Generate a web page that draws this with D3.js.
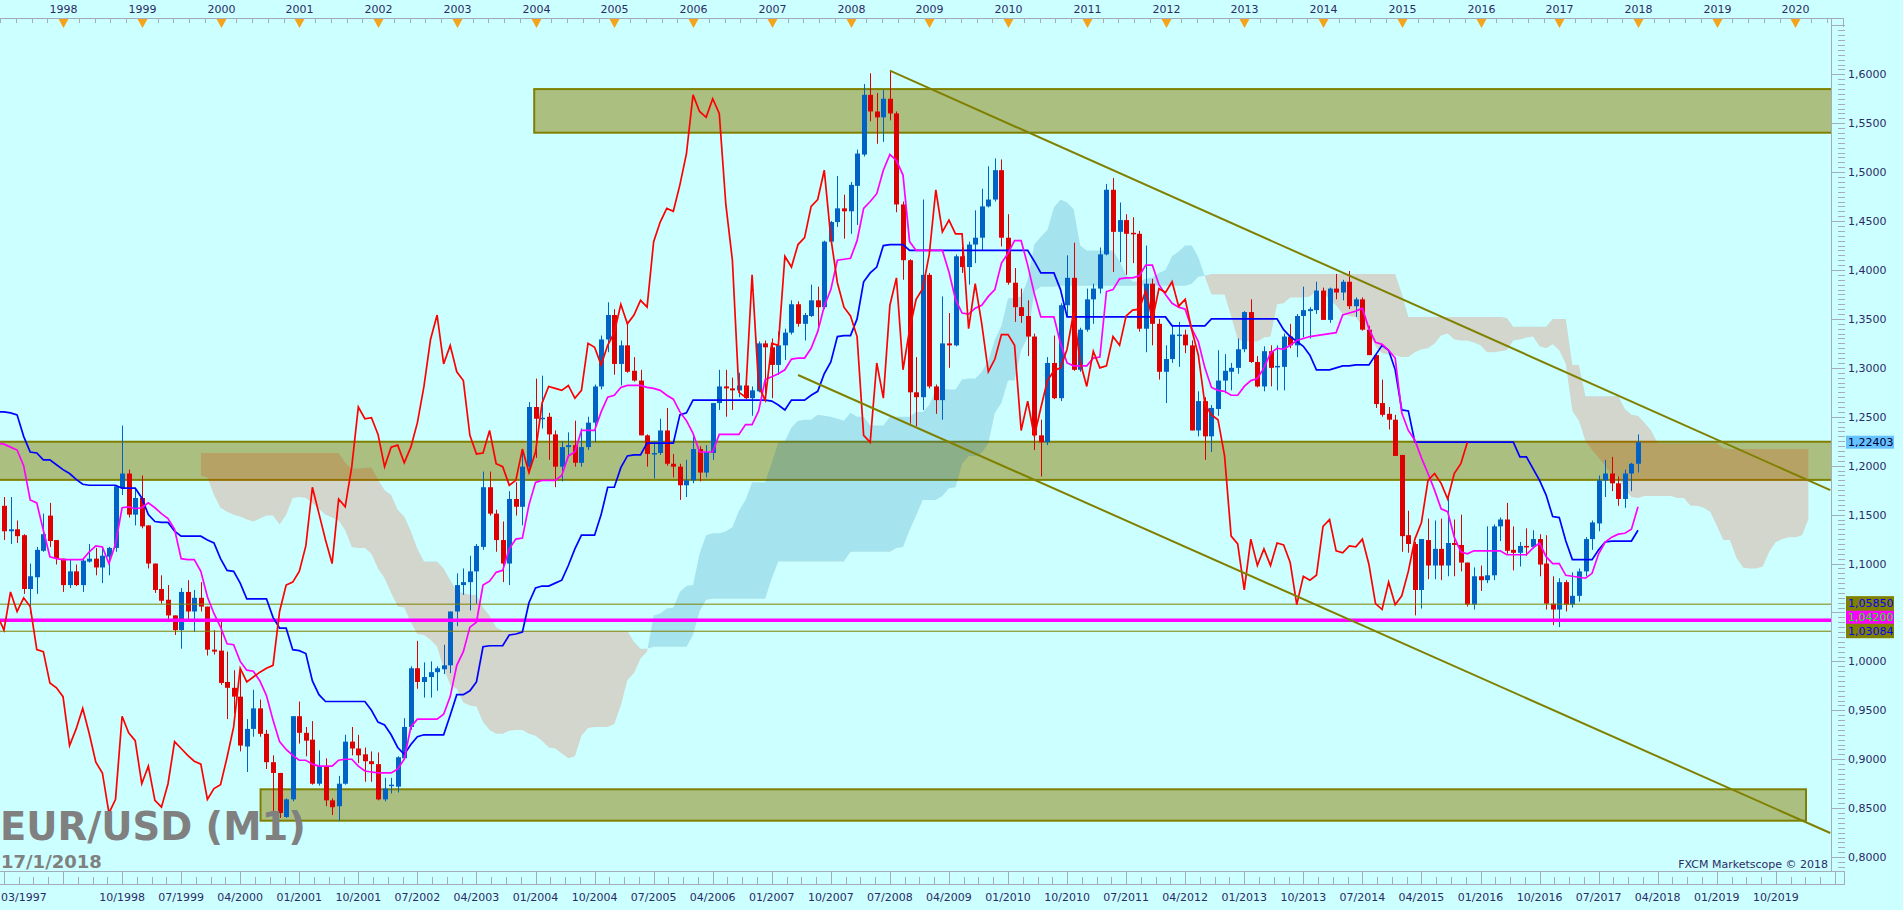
<!DOCTYPE html>
<html><head><meta charset="utf-8">
<script src="https://cdn.jsdelivr.net/npm/d3@7"></script>
<style>html,body{margin:0;padding:0;background:#ccffff;overflow:hidden}svg{display:block}</style>
</head><body>
<svg id="chart" width="1903" height="910"></svg>
<script>
// ---------------- DATA (monthly EUR/USD, first candle = 03/1997) ----------------
const firstMonth = {year: 1997, month: 3};
const opens = [
1.149,1.159,1.133,1.135,1.129,1.074,1.086,1.113,1.149,1.124,
1.105,1.078,1.092,1.078,1.102,1.105,1.096,1.107,1.116,1.177,
1.192,1.150,1.167,1.139,1.100,1.074,1.063,1.047,1.032,1.071,
1.051,1.065,1.056,1.012,1.011,0.979,0.973,0.964,0.913,0.931,
0.952,0.926,0.897,0.886,0.841,0.859,0.944,0.927,0.920,0.875,
0.893,0.858,0.852,0.875,0.918,0.911,0.905,0.898,0.895,0.859,
0.873,0.872,0.901,0.933,0.993,0.979,0.984,0.989,0.992,0.996,
1.051,1.078,1.081,1.092,1.117,1.178,1.151,1.124,1.100,1.166,
1.158,1.199,1.260,1.248,1.250,1.232,1.199,1.219,1.221,1.203,
1.219,1.244,1.281,1.329,1.354,1.304,1.323,1.297,1.287,1.231,
1.212,1.213,1.236,1.202,1.199,1.180,1.185,1.217,1.193,1.213,
1.264,1.281,1.279,1.277,1.282,1.269,1.276,1.325,1.321,1.303,
1.323,1.336,1.365,1.345,1.353,1.369,1.362,1.429,1.449,1.463,
1.460,1.486,1.518,1.579,1.562,1.556,1.575,1.560,1.467,1.410,
1.275,1.270,1.395,1.281,1.267,1.325,1.323,1.414,1.403,1.426,
1.433,1.465,1.472,1.502,1.433,1.387,1.362,1.353,1.332,1.231,
1.224,1.305,1.269,1.364,1.392,1.298,1.339,1.370,1.381,1.416,
1.482,1.439,1.451,1.438,1.437,1.340,1.386,1.345,1.296,1.309,
1.333,1.334,1.323,1.236,1.266,1.230,1.258,1.287,1.296,1.300,
1.319,1.357,1.306,1.281,1.317,1.301,1.301,1.332,1.323,1.353,
1.358,1.359,1.379,1.349,1.381,1.377,1.388,1.363,1.370,1.339,
1.313,1.264,1.253,1.247,1.211,1.129,1.120,1.073,1.124,1.098,
1.115,1.098,1.121,1.119,1.101,1.058,1.087,1.083,1.088,1.138,
1.145,1.114,1.111,1.118,1.117,1.125,1.100,1.059,1.053,1.081,
1.058,1.067,1.092,1.125,1.141,1.185,1.192,1.182,1.166,1.192,
1.202];
const highs = [
1.167,1.168,1.168,1.144,1.130,1.100,1.117,1.151,1.162,1.124,
1.105,1.104,1.099,1.105,1.120,1.116,1.117,1.117,1.179,1.241,
1.196,1.177,1.190,1.139,1.100,1.088,1.078,1.047,1.075,1.083,
1.073,1.081,1.056,1.032,1.042,1.010,0.991,0.991,0.941,0.971,
0.961,0.930,0.904,0.886,0.860,0.944,0.959,0.933,0.939,0.909,
0.901,0.860,0.883,0.925,0.933,0.925,0.912,0.908,0.907,0.881,
0.881,0.903,0.942,0.995,1.021,0.999,1.000,0.995,1.017,1.051,
1.090,1.095,1.108,1.120,1.194,1.194,1.155,1.143,1.174,1.183,
1.217,1.265,1.289,1.292,1.254,1.236,1.225,1.234,1.246,1.238,
1.250,1.283,1.333,1.367,1.360,1.328,1.347,1.311,1.298,1.232,
1.225,1.248,1.259,1.212,1.202,1.206,1.230,1.220,1.221,1.264,
1.298,1.298,1.290,1.295,1.285,1.281,1.327,1.328,1.330,1.337,
1.340,1.369,1.368,1.356,1.385,1.383,1.430,1.450,1.496,1.477,
1.490,1.523,1.590,1.601,1.581,1.584,1.603,1.562,1.470,1.411,
1.311,1.472,1.397,1.283,1.373,1.356,1.416,1.424,1.429,1.461,
1.483,1.506,1.514,1.513,1.457,1.402,1.381,1.369,1.335,1.247,
1.311,1.333,1.366,1.415,1.428,1.341,1.381,1.386,1.423,1.488,
1.494,1.469,1.457,1.454,1.440,1.425,1.391,1.350,1.323,1.344,
1.347,1.339,1.328,1.276,1.270,1.262,1.318,1.314,1.305,1.330,
1.358,1.370,1.312,1.322,1.323,1.323,1.335,1.345,1.355,1.383,
1.362,1.388,1.382,1.382,1.396,1.390,1.399,1.372,1.372,1.343,
1.315,1.288,1.260,1.252,1.211,1.154,1.122,1.125,1.146,1.144,
1.146,1.167,1.145,1.150,1.101,1.096,1.098,1.138,1.140,1.147,
1.162,1.138,1.122,1.136,1.134,1.130,1.129,1.087,1.085,1.083,
1.091,1.095,1.127,1.144,1.190,1.206,1.209,1.189,1.196,1.203,
1.232];
const lows = [
1.140,1.124,1.120,1.121,1.069,1.049,1.069,1.112,1.117,1.099,
1.071,1.075,1.077,1.071,1.101,1.088,1.080,1.088,1.112,1.170,
1.147,1.139,1.136,1.095,1.070,1.059,1.042,1.027,1.013,1.041,
1.030,1.051,1.006,1.007,0.976,0.941,0.947,0.908,0.887,0.923,
0.923,0.890,0.845,0.840,0.840,0.857,0.916,0.903,0.874,0.873,
0.852,0.843,0.837,0.874,0.904,0.896,0.877,0.877,0.858,0.857,
0.865,0.866,0.900,0.930,0.972,0.963,0.963,0.970,0.987,0.988,
1.036,1.068,1.052,1.059,1.114,1.149,1.112,1.081,1.078,1.149,
1.139,1.193,1.208,1.238,1.206,1.178,1.184,1.208,1.199,1.199,
1.216,1.224,1.278,1.316,1.293,1.282,1.295,1.286,1.231,1.199,
1.187,1.211,1.200,1.188,1.165,1.168,1.182,1.184,1.188,1.206,
1.257,1.250,1.257,1.270,1.268,1.251,1.275,1.269,1.269,1.293,
1.308,1.334,1.342,1.328,1.352,1.338,1.360,1.428,1.444,1.432,
1.437,1.446,1.516,1.552,1.529,1.531,1.553,1.459,1.390,1.243,
1.240,1.257,1.279,1.253,1.247,1.300,1.322,1.397,1.385,1.407,
1.420,1.464,1.470,1.424,1.385,1.347,1.346,1.312,1.216,1.189,
1.221,1.268,1.266,1.352,1.297,1.296,1.337,1.345,1.376,1.415,
1.398,1.408,1.395,1.407,1.337,1.316,1.323,1.288,1.264,1.305,
1.301,1.315,1.236,1.230,1.206,1.214,1.251,1.274,1.277,1.294,
1.316,1.305,1.280,1.276,1.281,1.277,1.277,1.320,1.311,1.331,
1.330,1.355,1.349,1.346,1.370,1.369,1.360,1.352,1.338,1.313,
1.259,1.250,1.237,1.210,1.112,1.111,1.047,1.054,1.084,1.084,
1.083,1.087,1.087,1.092,1.056,1.053,1.072,1.080,1.083,1.123,
1.110,1.093,1.097,1.108,1.115,1.087,1.053,1.037,1.035,1.051,
1.055,1.061,1.087,1.114,1.133,1.168,1.174,1.159,1.157,1.174,
1.193];
const closes = [
1.159,1.133,1.135,1.128,1.074,1.087,1.114,1.130,1.123,1.105,
1.078,1.092,1.078,1.103,1.105,1.096,1.108,1.116,1.179,1.192,
1.150,1.167,1.138,1.100,1.073,1.062,1.047,1.032,1.071,1.051,
1.065,1.056,1.012,1.010,0.978,0.973,0.964,0.914,0.931,0.952,
0.926,0.897,0.886,0.845,0.859,0.944,0.927,0.919,0.875,0.893,
0.858,0.851,0.875,0.918,0.911,0.904,0.898,0.895,0.859,0.870,
0.874,0.902,0.933,0.993,0.979,0.984,0.989,0.993,0.996,1.051,
1.078,1.081,1.092,1.118,1.178,1.151,1.124,1.100,1.166,1.158,
1.199,1.260,1.248,1.249,1.232,1.199,1.219,1.221,1.203,1.219,
1.244,1.281,1.329,1.354,1.304,1.323,1.296,1.287,1.231,1.212,
1.213,1.236,1.202,1.199,1.180,1.185,1.217,1.193,1.214,1.264,
1.281,1.279,1.277,1.282,1.269,1.277,1.325,1.321,1.303,1.323,
1.336,1.365,1.345,1.354,1.369,1.362,1.429,1.449,1.463,1.460,
1.487,1.519,1.579,1.562,1.556,1.575,1.560,1.467,1.410,1.275,
1.270,1.395,1.281,1.267,1.325,1.323,1.414,1.403,1.426,1.433,
1.465,1.472,1.502,1.433,1.387,1.362,1.353,1.332,1.231,1.224,
1.305,1.269,1.364,1.392,1.298,1.339,1.370,1.381,1.416,1.482,
1.439,1.451,1.437,1.437,1.340,1.386,1.345,1.296,1.309,1.334,
1.334,1.323,1.236,1.266,1.230,1.259,1.287,1.297,1.300,1.319,
1.357,1.306,1.281,1.317,1.300,1.302,1.332,1.323,1.353,1.359,
1.360,1.379,1.349,1.381,1.377,1.388,1.363,1.370,1.339,1.313,
1.263,1.252,1.247,1.210,1.128,1.120,1.073,1.125,1.098,1.115,
1.098,1.121,1.119,1.101,1.058,1.087,1.083,1.088,1.138,1.145,
1.113,1.111,1.118,1.117,1.125,1.099,1.059,1.053,1.081,1.058,
1.067,1.092,1.125,1.142,1.185,1.192,1.182,1.166,1.192,1.202,
1.224];
// Ichimoku lines (same month index as candles)
const tenkan = [
1.223,1.222,1.219,1.216,1.200,1.165,1.162,1.134,1.107,1.105,
1.104,1.104,1.104,1.104,1.112,1.118,1.117,1.100,1.120,1.157,
1.158,1.156,1.157,1.162,1.157,1.151,1.146,1.135,1.105,1.104,
1.104,1.092,1.066,1.049,1.035,1.018,1.017,1.000,0.991,0.990,
0.980,0.965,0.940,0.918,0.910,0.904,0.899,0.899,0.895,0.893,
0.893,0.893,0.899,0.900,0.900,0.893,0.888,0.887,0.886,0.886,
0.886,0.890,0.900,0.933,0.941,0.941,0.941,0.941,0.946,0.964,
0.996,1.010,1.035,1.040,1.078,1.082,1.091,1.093,1.115,1.125,
1.126,1.160,1.183,1.185,1.185,1.185,1.190,1.210,1.214,1.236,
1.236,1.236,1.255,1.270,1.272,1.280,1.282,1.282,1.282,1.280,
1.279,1.277,1.272,1.268,1.255,1.246,1.233,1.214,1.214,1.214,
1.232,1.232,1.232,1.232,1.242,1.242,1.256,1.288,1.291,1.294,
1.298,1.309,1.310,1.310,1.320,1.337,1.363,1.380,1.410,1.411,
1.412,1.430,1.463,1.470,1.478,1.502,1.518,1.512,1.497,1.429,
1.420,1.420,1.420,1.420,1.420,1.398,1.370,1.356,1.355,1.361,
1.364,1.373,1.380,1.407,1.417,1.430,1.430,1.405,1.376,1.352,
1.352,1.352,1.325,1.305,1.302,1.302,1.302,1.310,1.311,1.378,
1.380,1.391,1.392,1.392,1.394,1.405,1.405,1.385,1.375,1.366,
1.362,1.360,1.340,1.327,1.300,1.280,1.277,1.276,1.272,1.272,
1.281,1.287,1.289,1.300,1.315,1.320,1.319,1.323,1.328,1.330,
1.332,1.333,1.334,1.335,1.336,1.354,1.356,1.358,1.361,1.340,
1.326,1.324,1.318,1.310,1.254,1.236,1.226,1.208,1.192,1.175,
1.156,1.153,1.127,1.112,1.110,1.113,1.113,1.113,1.113,1.113,
1.109,1.109,1.109,1.109,1.116,1.121,1.107,1.100,1.100,1.088,
1.087,1.086,1.085,1.090,1.110,1.122,1.127,1.130,1.131,1.135,
1.158];
const kijun = [
1.255,1.255,1.254,1.252,1.230,1.214,1.213,1.206,1.206,1.201,
1.196,1.192,1.186,1.181,1.180,1.180,1.180,1.180,1.180,1.177,
1.177,1.177,1.167,1.150,1.143,1.142,1.142,1.133,1.128,1.128,
1.128,1.128,1.124,1.121,1.105,1.093,1.092,1.080,1.064,1.064,
1.064,1.064,1.045,1.034,1.034,1.012,1.011,1.008,0.980,0.966,
0.959,0.959,0.959,0.959,0.959,0.959,0.959,0.950,0.938,0.935,
0.925,0.912,0.905,0.915,0.923,0.925,0.925,0.925,0.925,0.945,
0.966,0.966,0.970,0.979,1.015,1.016,1.016,1.016,1.027,1.028,
1.030,1.060,1.075,1.077,1.077,1.080,1.083,1.098,1.115,1.129,
1.129,1.129,1.150,1.178,1.178,1.198,1.210,1.211,1.211,1.223,
1.223,1.223,1.223,1.223,1.252,1.254,1.267,1.267,1.267,1.267,
1.267,1.267,1.267,1.267,1.267,1.267,1.267,1.267,1.266,1.262,
1.257,1.267,1.267,1.267,1.272,1.276,1.294,1.306,1.332,1.333,
1.333,1.350,1.388,1.397,1.403,1.425,1.426,1.426,1.426,1.420,
1.420,1.420,1.420,1.420,1.420,1.420,1.420,1.420,1.420,1.420,
1.420,1.420,1.420,1.420,1.420,1.420,1.420,1.420,1.409,1.397,
1.397,1.397,1.380,1.352,1.352,1.352,1.352,1.352,1.352,1.352,
1.352,1.352,1.352,1.352,1.352,1.352,1.352,1.352,1.352,1.343,
1.343,1.343,1.343,1.343,1.343,1.350,1.350,1.350,1.350,1.350,
1.350,1.350,1.350,1.350,1.350,1.350,1.339,1.332,1.327,1.322,
1.313,1.298,1.298,1.298,1.300,1.302,1.302,1.303,1.303,1.303,
1.313,1.323,1.318,1.298,1.257,1.256,1.224,1.224,1.224,1.224,
1.224,1.224,1.224,1.224,1.224,1.224,1.224,1.224,1.224,1.224,
1.224,1.224,1.209,1.209,1.197,1.185,1.170,1.148,1.147,1.123,
1.104,1.104,1.104,1.104,1.114,1.122,1.123,1.123,1.123,1.123,
1.134];
const chikouShift = 26;
const cloudStart = 31; // month index of first cloud value (cloud runs 26 months ahead)
const spanA = [
1.190,1.188,1.170,1.157,1.153,1.150,1.148,1.145,1.143,1.146,
1.149,1.149,1.140,1.150,1.167,1.168,1.167,1.162,1.156,1.150,
1.147,1.144,1.134,1.117,1.116,1.116,1.110,1.095,1.085,1.070,
1.056,1.055,1.040,1.028,1.027,1.022,1.015,0.993,0.976,0.972,
0.958,0.955,0.954,0.938,0.930,0.926,0.926,0.929,0.930,0.930,
0.926,0.924,0.919,0.912,0.911,0.906,0.901,0.903,0.924,0.932,
0.933,0.933,0.933,0.936,0.955,0.981,0.988,1.003,1.010,1.047,
1.049,1.054,1.055,1.071,1.077,1.078,1.110,1.129,1.131,1.131,
1.133,1.137,1.154,1.165,1.183,1.183,1.183,1.203,1.224,1.225,
1.239,1.246,1.247,1.247,1.252,1.251,1.250,1.248,1.246,1.254,
1.250,1.250,1.241,1.241,1.241,1.250,1.250,1.250,1.250,1.255,
1.255,1.262,1.278,1.279,1.278,1.278,1.288,1.289,1.289,1.296,
1.307,1.329,1.343,1.371,1.372,1.373,1.390,1.426,1.434,1.441,
1.464,1.472,1.469,1.462,1.425,1.420,1.420,1.420,1.420,1.420,
1.409,1.395,1.388,1.388,1.391,1.392,1.397,1.400,1.414,1.419,
1.425,1.425,1.413,1.393,1.375,1.375,1.375,1.353,1.329,1.327,
1.327,1.327,1.331,1.332,1.365,1.366,1.372,1.372,1.372,1.373,
1.379,1.379,1.369,1.364,1.355,1.353,1.352,1.342,1.335,1.322,
1.315,1.314,1.313,1.311,1.311,1.316,1.319,1.320,1.325,1.333,
1.335,1.329,1.328,1.328,1.326,1.323,1.316,1.316,1.317,1.318,
1.328,1.329,1.331,1.332,1.322,1.320,1.324,1.318,1.304,1.256,
1.246,1.225,1.216,1.208,1.200,1.190,1.189,1.176,1.168,1.167,
1.169,1.169,1.169,1.169,1.169,1.167,1.167,1.159,1.159,1.157,
1.153,1.139,1.124,1.124,1.106,1.096,1.095,1.095,1.097,1.112,
1.122,1.125,1.127,1.127,1.129,1.146];
const spanB = [
1.213,1.213,1.213,1.213,1.213,1.213,1.213,1.213,1.213,1.213,
1.213,1.213,1.213,1.213,1.213,1.213,1.213,1.213,1.213,1.213,
1.213,1.213,1.203,1.197,1.197,1.198,1.198,1.186,1.175,1.170,
1.155,1.148,1.133,1.115,1.102,1.102,1.102,1.095,1.083,1.072,
1.070,1.068,1.068,1.055,1.047,1.035,1.031,1.031,1.031,1.031,
1.031,1.031,1.031,1.031,1.031,1.031,1.031,1.031,1.031,1.031,
1.031,1.031,1.031,1.031,1.031,1.031,1.020,1.013,1.013,1.015,
1.015,1.015,1.015,1.015,1.015,1.027,1.051,1.063,1.064,1.064,
1.064,1.064,1.064,1.064,1.064,1.064,1.064,1.085,1.102,1.102,
1.102,1.102,1.102,1.102,1.102,1.102,1.102,1.102,1.102,1.112,
1.112,1.112,1.112,1.112,1.112,1.112,1.116,1.117,1.134,1.149,
1.165,1.165,1.165,1.169,1.177,1.178,1.202,1.210,1.210,1.213,
1.223,1.254,1.264,1.287,1.287,1.318,1.331,1.378,1.383,1.383,
1.383,1.384,1.384,1.384,1.384,1.384,1.384,1.384,1.384,1.384,
1.384,1.384,1.384,1.384,1.384,1.384,1.384,1.384,1.384,1.384,
1.384,1.386,1.393,1.394,1.396,1.396,1.396,1.396,1.396,1.396,
1.396,1.396,1.396,1.396,1.396,1.396,1.396,1.396,1.396,1.396,
1.396,1.396,1.396,1.396,1.396,1.396,1.396,1.396,1.396,1.396,
1.396,1.396,1.396,1.376,1.352,1.352,1.352,1.352,1.352,1.352,
1.352,1.352,1.352,1.352,1.352,1.352,1.352,1.352,1.352,1.351,
1.342,1.342,1.342,1.342,1.342,1.342,1.350,1.350,1.350,1.303,
1.303,1.271,1.271,1.271,1.271,1.271,1.271,1.258,1.252,1.251,
1.244,1.236,1.223,1.223,1.223,1.223,1.223,1.223,1.223,1.223,
1.223,1.223,1.218,1.217,1.217,1.217,1.217,1.217,1.217,1.217,
1.217,1.217,1.217,1.217,1.217,1.217];
// drawn objects (month index, price)
const zones = [
  {from: 81.8, to: 290, top: 1.5849, bottom: 1.5403},
  {from: -5,   to: 290, top: 1.2245, bottom: 1.1855},
  {from: 40.1, to: 275.6, top: 0.8693, bottom: 0.8372}
];
const trendLines = [
  {m1: 136, v1: 1.6037, m2: 279.3, v2: 1.1750},
  {m1: 122, v1: 1.2927, m2: 279.3, v2: 0.8246}
];
const levelLines = [
  {v: 1.05850, label: "1,05850", kind: "olive"},
  {v: 1.04200, label: "1,04200", kind: "magenta"},
  {v: 1.03084, label: "1,03084", kind: "olive"}
];
const lastPrice = 1.22403;
const yearLabels = ["1998","1999","2000","2001","2002","2003","2004","2005","2006","2007","2008","2009","2010","2011","2012","2013","2014","2015","2016","2017","2018","2019","2020"];
const dateLabels = ["03/1997","10/1998","07/1999","04/2000","01/2001","10/2001","07/2002","04/2003","01/2004","10/2004","07/2005","04/2006","01/2007","10/2007","07/2008","04/2009","01/2010","10/2010","07/2011","04/2012","01/2013","10/2013","07/2014","04/2015","01/2016","10/2016","07/2017","04/2018","01/2019","10/2019"];
const priceTicks = [0.80,0.85,0.90,0.95,1.00,1.05,1.10,1.15,1.20,1.25,1.30,1.35,1.40,1.45,1.50,1.55,1.60];
const title = "EUR/USD (M1)";
const subTitle = "17/1/2018";
const credit = "FXCM Marketscope \u00A9 2018";

// ---------------- DRAW ----------------
(function draw() {
const W = 1903, H = 910;
const P = {left: 0, right: 1831, top: 18, bottom: 871};
const x = d3.scaleLinear().domain([0, 250]).range([-2.6, 1638.0]);
const y = d3.scaleLinear().domain([0.8, 1.6]).range([857.1, 74.3]);
const svg = d3.select('#chart');
const FONT = "'DejaVu Sans', Verdana, sans-serif";
const AX = '#a4acbc', TXT = '#2b2b66';
const monthIdx = s => { const [mm, yy] = s.split('/').map(Number); return (yy - firstMonth.year) * 12 + (mm - firstMonth.month); };

svg.append('rect').attr('width', W).attr('height', H).attr('fill', '#ccffff');
const defs = svg.append('defs');
defs.append('clipPath').attr('id', 'plotClip').append('rect')
  .attr('x', P.left).attr('y', P.top).attr('width', P.right - P.left).attr('height', P.bottom - P.top);

const plotG = svg.append('g').attr('clip-path', 'url(#plotClip)');

// zones
plotG.append('g').selectAll('rect').data(zones).join('rect')
  .attr('x', d => x(d.from)).attr('width', d => x(d.to) - x(d.from))
  .attr('y', d => y(d.top)).attr('height', d => y(d.bottom) - y(d.top))
  .attr('fill', '#aabf80').attr('stroke', '#808000').attr('stroke-width', 2);

// cloud
const n = Math.min(spanA.length, spanB.length);
const cloud = d3.range(n).map(i => ({m: cloudStart + i, a: spanA[i], b: spanB[i]}));
const aboveB = d3.area().x(d => x(d.m)).y0(0).y1(d => y(d.b));
const belowB = d3.area().x(d => x(d.m)).y0(H).y1(d => y(d.b));
defs.append('clipPath').attr('id', 'bullClip').append('path').attr('d', aboveB(cloud));
defs.append('clipPath').attr('id', 'bearClip').append('path').attr('d', belowB(cloud));
const areaAB = d3.area().x(d => x(d.m)).y0(d => y(d.a)).y1(d => y(d.b));
plotG.append('path').attr('d', areaAB(cloud)).attr('clip-path', 'url(#bearClip)')
  .attr('fill', 'rgb(234,50,0)').attr('fill-opacity', 0.2);
plotG.append('path').attr('d', areaAB(cloud)).attr('clip-path', 'url(#bullClip)')
  .attr('fill', 'rgb(10,115,175)').attr('fill-opacity', 0.2);

// candles
const candles = d3.range(closes.length).map(i => ({i, o: opens[i], h: highs[i], l: lows[i], c: closes[i]}));
const BULL = '#0062c4', BEAR = '#de0000';
const cg = plotG.append('g');
cg.selectAll('line').data(candles).join('line')
  .attr('x1', d => Math.round(x(d.i)) + 0.5).attr('x2', d => Math.round(x(d.i)) + 0.5)
  .attr('y1', d => y(d.h)).attr('y2', d => y(d.l))
  .attr('stroke', d => d.c >= d.o ? BULL : BEAR).attr('stroke-width', 1);
cg.selectAll('rect').data(candles).join('rect')
  .attr('x', d => Math.round(x(d.i)) - 2).attr('width', 5)
  .attr('y', d => y(Math.max(d.o, d.c)))
  .attr('height', d => Math.max(1.5, y(Math.min(d.o, d.c)) - y(Math.max(d.o, d.c))))
  .attr('fill', d => d.c >= d.o ? BULL : BEAR);

// level lines
levelLines.forEach(l => {
  plotG.append('line').attr('x1', P.left).attr('x2', P.right).attr('y1', y(l.v)).attr('y2', y(l.v))
    .attr('stroke', l.kind === 'magenta' ? '#ff00ff' : '#808000')
    .attr('stroke-width', l.kind === 'magenta' ? 3.5 : 1);
});

// ichimoku lines
const lineGen = d3.line().x(d => x(d[0])).y(d => y(d[1]));
plotG.append('path').attr('d', lineGen(kijun.map((v, i) => [i, v])))
  .attr('fill', 'none').attr('stroke', '#0000ff').attr('stroke-width', 1.7);
plotG.append('path').attr('d', lineGen(tenkan.map((v, i) => [i, v])))
  .attr('fill', 'none').attr('stroke', '#ff00ff').attr('stroke-width', 1.7);
plotG.append('path').attr('d', lineGen(closes.map((v, i) => [i - chikouShift, v])))
  .attr('fill', 'none').attr('stroke', '#ff0000').attr('stroke-width', 1.7);

// trend lines
plotG.selectAll('line.trend').data(trendLines).join('line').attr('class', 'trend')
  .attr('x1', d => x(d.m1)).attr('y1', d => y(d.v1)).attr('x2', d => x(d.m2)).attr('y2', d => y(d.v2))
  .attr('stroke', '#808000').attr('stroke-width', 2);

// ---------- top date axis ----------
const topAx = svg.append('g');
topAx.append('line').attr('x1', 0).attr('x2', 1844).attr('y1', 18.5).attr('y2', 18.5).attr('stroke', AX);
for (let m = 10 - 2.4 * 4; x(m) <= 1844; m += 2.4) {
  const xx = Math.round(x(m)) + 0.5;
  if (xx < 0) continue;
  topAx.append('line').attr('x1', xx).attr('x2', xx).attr('y1', 19).attr('y2', 23).attr('stroke', AX);
}
topAx.append('line').attr('x1', 1843.5).attr('x2', 1843.5).attr('y1', 19).attr('y2', 27).attr('stroke', AX);
yearLabels.forEach(t => {
  const m = monthIdx('01/' + t);
  const xx = Math.round(x(m)) + 0.5;
  topAx.append('path').attr('d', `M${xx - 5},19 L${xx + 5},19 L${xx},28 Z`).attr('fill', '#f5a31a');
  topAx.append('text').attr('x', xx).attr('y', 13).attr('text-anchor', 'middle')
    .attr('font-family', FONT).attr('font-size', 11).attr('fill', TXT).text(t);
});

// ---------- bottom date axis ----------
const botAx = svg.append('g');
botAx.append('line').attr('x1', 0).attr('x2', 1845).attr('y1', 871.5).attr('y2', 871.5).attr('stroke', AX);
botAx.append('line').attr('x1', 0).attr('x2', 1845).attr('y1', 884.5).attr('y2', 884.5).attr('stroke', AX);
for (let m = 19 - 2.25 * 8; x(m) <= 1845; m += 2.25) {
  const xx = Math.round(x(m)) + 0.5;
  if (xx < 0) continue;
  const k = Math.round((m - 19) / 2.25);
  botAx.append('line').attr('x1', xx).attr('x2', xx).attr('y1', k % 4 === 0 ? 872 : 877).attr('y2', 884)
    .attr('stroke', AX);
}
botAx.append('line').attr('x1', 1844.5).attr('x2', 1844.5).attr('y1', 872).attr('y2', 884).attr('stroke', AX);
dateLabels.forEach((t, k) => {
  const m = monthIdx(t);
  botAx.append('text').attr('x', k === 0 ? 1 : x(m)).attr('y', 901)
    .attr('text-anchor', k === 0 ? 'start' : 'middle')
    .attr('font-family', FONT).attr('font-size', 11).attr('fill', TXT).text(t);
});

// ---------- right price axis ----------
const ra = svg.append('g');
ra.append('line').attr('x1', 1831.5).attr('x2', 1831.5).attr('y1', 18).attr('y2', 872).attr('stroke', AX);
for (let k = 150; k <= 330; k++) {
  const v = k * 0.005;
  const yy = Math.round(y(v)) + 0.5;
  if (yy < 22 || yy > 870) continue;
  const major = k % 10 === 0;
  ra.append('line').attr('x1', major ? 1831 : 1838).attr('x2', 1845).attr('y1', yy).attr('y2', yy).attr('stroke', AX);
}
// price-box label positions (spread so that the stacked boxes do not collide)
const boxes = [{v: lastPrice, label: lastPrice.toFixed(5).replace('.', ','), bg: '#66c2ff', fg: '#000033'}]
  .concat(levelLines.map(l => ({v: l.v, label: l.label,
    bg: l.kind === 'magenta' ? '#ff00ff' : '#808000', fg: l.kind === 'magenta' ? '#00ff00' : '#0000ff'})));
boxes.forEach(b => b.cy = y(b.v));
const lv = boxes.slice(1).sort((a, b) => b.cy - a.cy);
for (let i = 1; i < lv.length; i++) lv[i].cy = Math.min(lv[i].cy, lv[i - 1].cy - 14);

const fmt = v => v.toFixed(4).replace('.', ',');
priceTicks.forEach(v => {
  const yy = y(v);
  if (boxes.some(b => Math.abs(b.cy - yy) < 12)) return; // hidden behind a price box
  ra.append('text').attr('x', 1848).attr('y', yy + 4).attr('font-family', FONT).attr('font-size', 11)
    .attr('fill', TXT).text(fmt(v));
});
// olive backing behind the stacked level boxes
const cyMin = d3.min(lv, b => b.cy), cyMax = d3.max(lv, b => b.cy);
ra.append('rect').attr('x', 1846).attr('y', cyMin - 7).attr('width', 48).attr('height', cyMax - cyMin + 14).attr('fill', '#808000');
boxes.forEach(b => {
  ra.append('rect').attr('x', 1846).attr('y', b.cy - 6.5).attr('width', 48).attr('height', 13).attr('fill', b.bg);
  ra.append('text').attr('x', 1848).attr('y', b.cy + 4).attr('font-family', FONT).attr('font-size', 11)
    .attr('fill', b.fg).text(b.label);
});

// ---------- texts ----------
svg.append('text').attr('x', 0).attr('y', 840).attr('font-family', "'DejaVu Sans', sans-serif")
  .attr('font-weight', 'bold').attr('font-size', 38.5).attr('fill', '#808080').text(title);
svg.append('text').attr('x', 1).attr('y', 868).attr('font-family', "'DejaVu Sans', sans-serif")
  .attr('font-weight', 'bold').attr('font-size', 18).attr('fill', '#808080').text(subTitle);
svg.append('text').attr('x', 1828).attr('y', 868).attr('text-anchor', 'end').attr('font-family', FONT)
  .attr('font-size', 11).attr('fill', TXT).text(credit);
})();
</script>
</body></html>
